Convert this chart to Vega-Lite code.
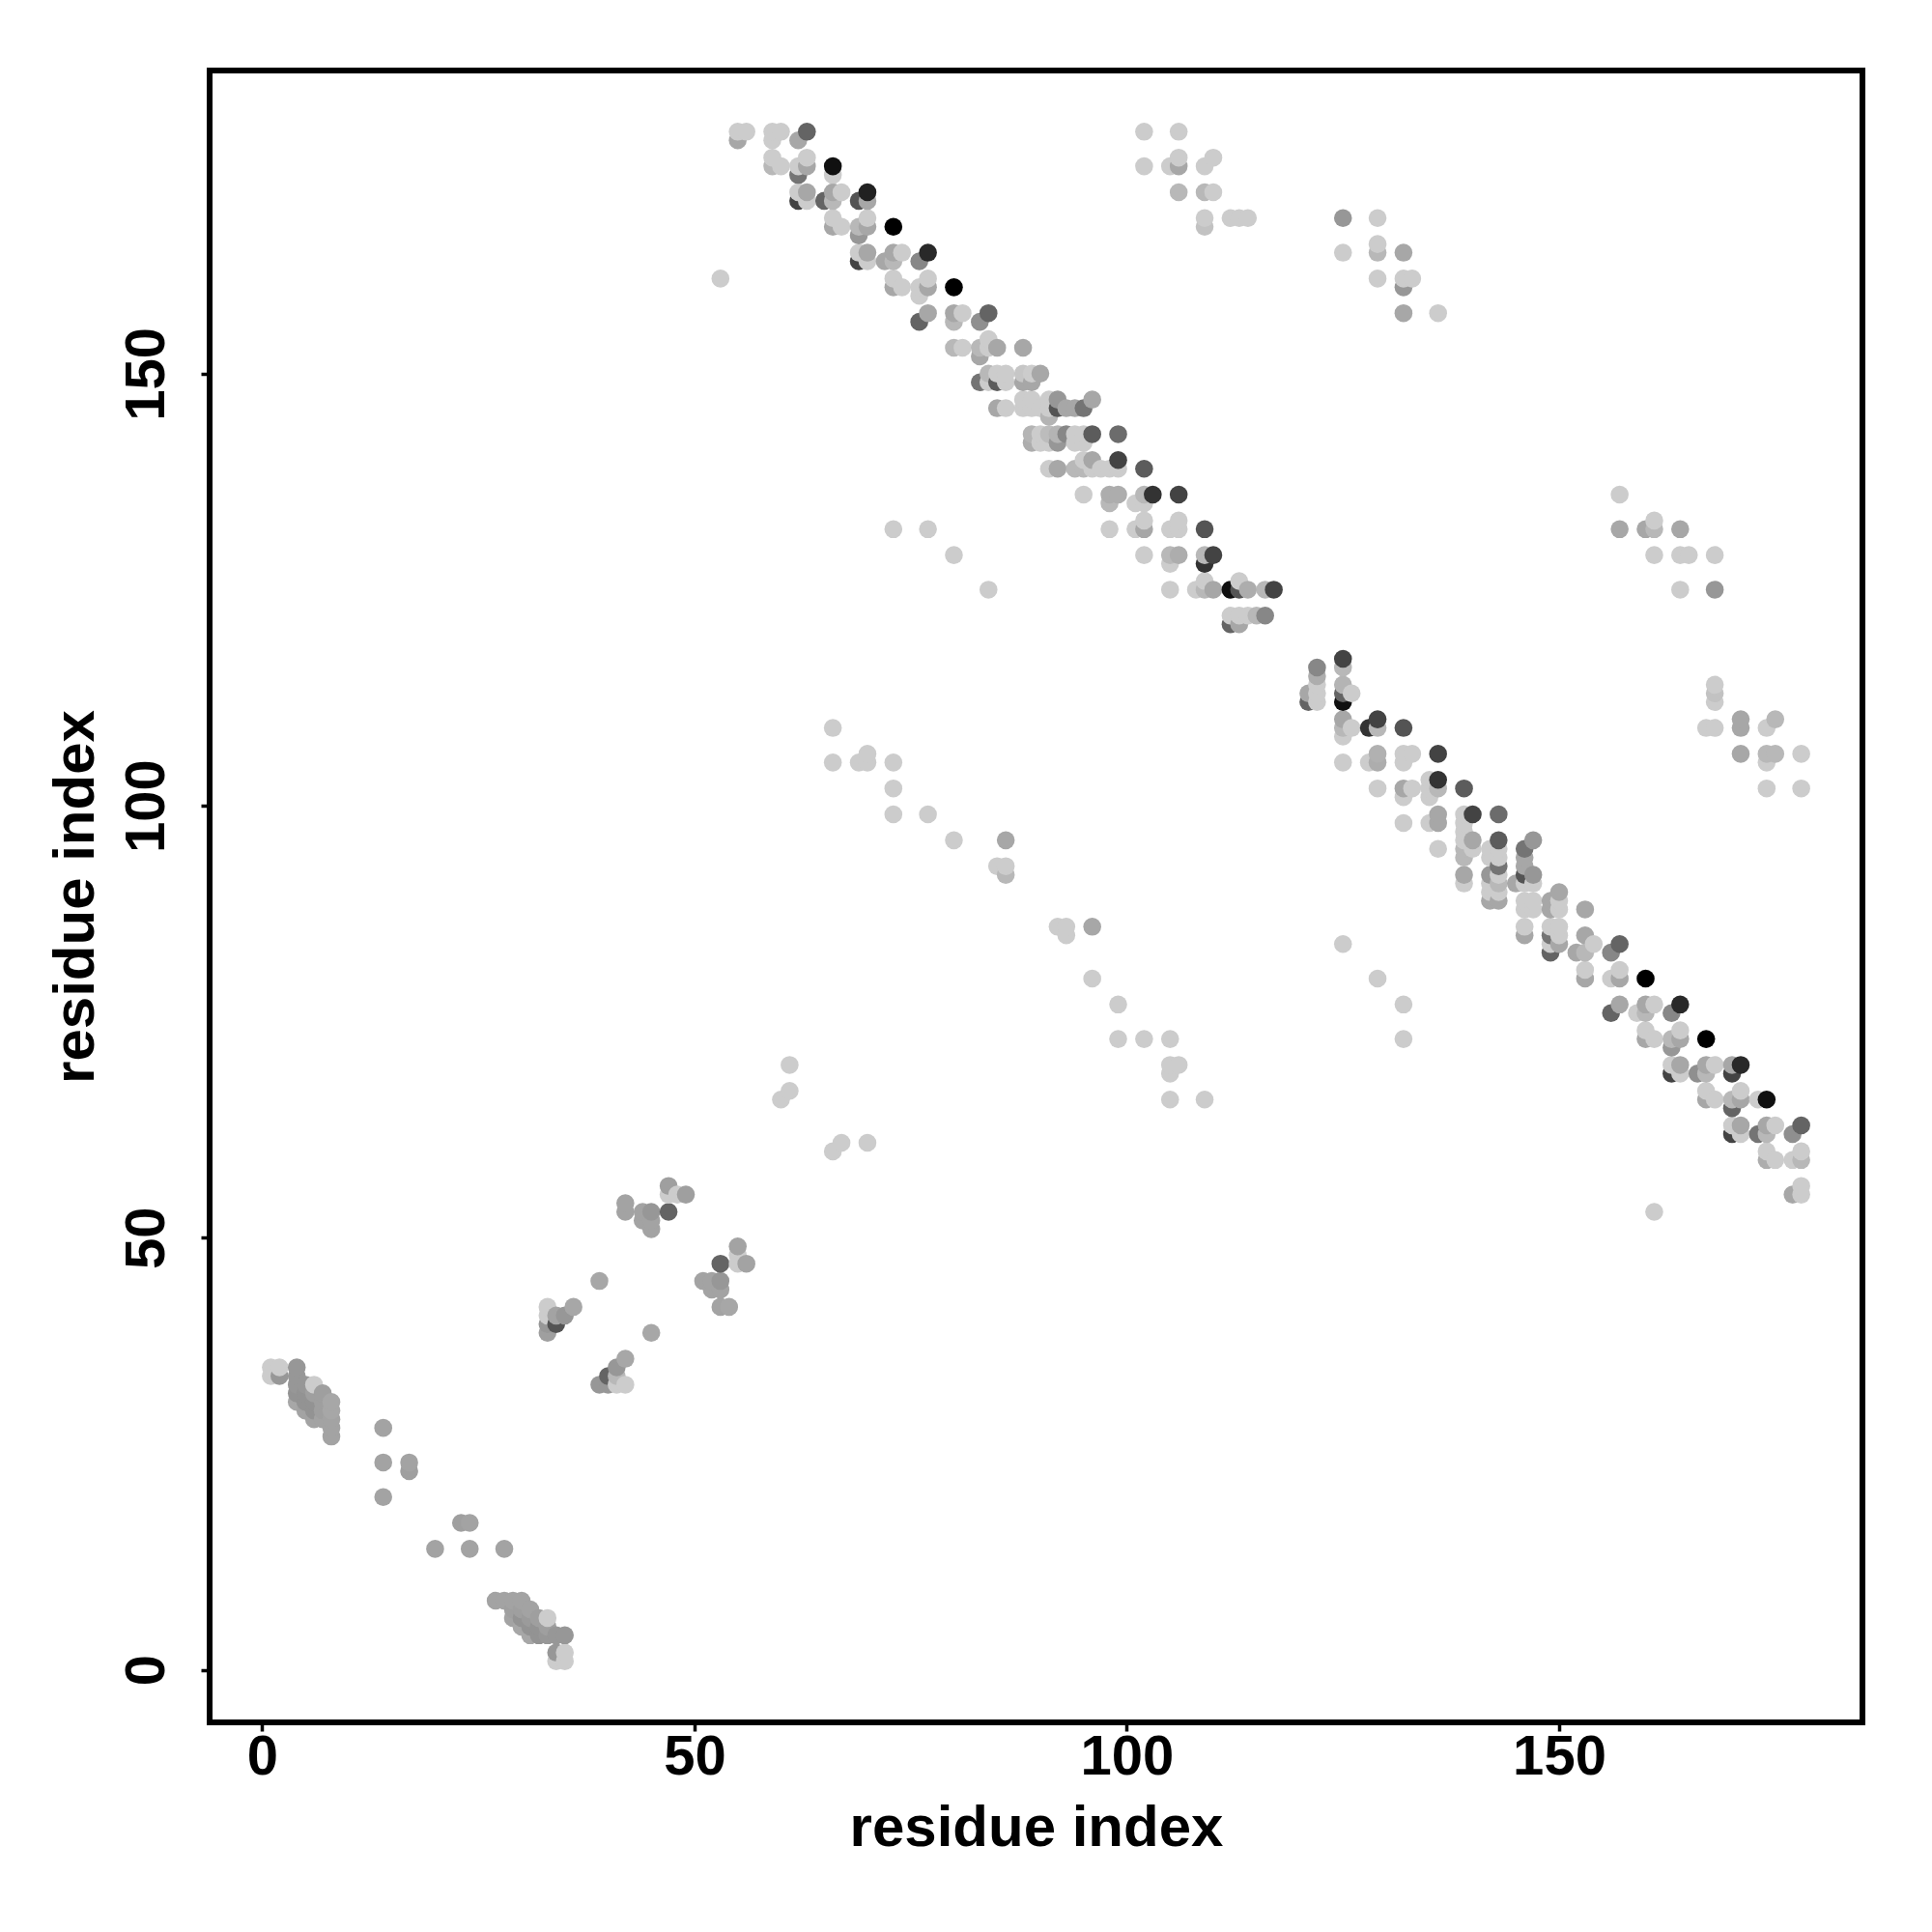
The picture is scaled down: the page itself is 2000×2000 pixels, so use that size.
{"$schema":"https://vega.github.io/schema/vega-lite/v6.json","autosize":{"type":"none"},"padding":{"left":217,"top":73,"right":71,"bottom":217},"width":1711,"height":1710,"background":"white","view":{"stroke":"black","strokeWidth":6,"fill":"white"},
"data":{"values":[
{"i":55,"j":178,"s":0},{"i":56,"j":178,"s":0},{"i":59,"j":178,"s":0},{"i":60,"j":178,"s":0},{"i":63,"j":178,"s":0.51},
{"i":55,"j":177,"s":0.18},{"i":59,"j":177,"s":0},{"i":62,"j":177,"s":0.18},
{"i":59,"j":175,"s":0},{"i":63,"j":175,"s":0},
{"i":66,"j":174,"s":0.92},{"i":59,"j":174,"s":0.1},{"i":60,"j":174,"s":0},{"i":62,"j":174,"s":0},{"i":63,"j":174,"s":0.18},
{"i":62,"j":173,"s":0.43},{"i":66,"j":173,"s":0},
{"i":62,"j":171,"s":0},{"i":63,"j":171,"s":0.18},{"i":66,"j":171,"s":0.18},{"i":67,"j":171,"s":0},{"i":70,"j":171,"s":0.84},
{"i":62,"j":170,"s":0.67},{"i":63,"j":170,"s":0},{"i":65,"j":170,"s":0.51},{"i":66,"j":170,"s":0.1},{"i":69,"j":170,"s":0.59},{"i":70,"j":170,"s":0.18},
{"i":66,"j":168,"s":0},{"i":70,"j":168,"s":0},
{"i":66,"j":167,"s":0.18},{"i":67,"j":167,"s":0},{"i":69,"j":167,"s":0.1},{"i":70,"j":167,"s":0.18},{"i":73,"j":167,"s":1},
{"i":69,"j":166,"s":0.26},
{"i":69,"j":164,"s":0},{"i":70,"j":164,"s":0.18},{"i":73,"j":164,"s":0.18},{"i":74,"j":164,"s":0},{"i":77,"j":164,"s":0.8},
{"i":69,"j":163,"s":0.67},{"i":70,"j":163,"s":0},{"i":72,"j":163,"s":0.18},{"i":73,"j":163,"s":0.1},{"i":76,"j":163,"s":0.34},
{"i":53,"j":161,"s":0},{"i":73,"j":161,"s":0},{"i":77,"j":161,"s":0},
{"i":73,"j":160,"s":0.18},{"i":74,"j":160,"s":0},{"i":76,"j":160,"s":0},{"i":77,"j":160,"s":0.18},{"i":80,"j":160,"s":1},
{"i":76,"j":159,"s":0},
{"i":77,"j":157,"s":0.18},{"i":80,"j":157,"s":0.18},{"i":81,"j":157,"s":0},{"i":84,"j":157,"s":0.51},
{"i":76,"j":156,"s":0.51},{"i":80,"j":156,"s":0.1},{"i":83,"j":156,"s":0.3},
{"i":84,"j":154,"s":0},
{"i":80,"j":153,"s":0.1},{"i":81,"j":153,"s":0},{"i":83,"j":153,"s":0.1},{"i":84,"j":153,"s":0},{"i":85,"j":153,"s":0.18},{"i":88,"j":153,"s":0.18},
{"i":83,"j":152,"s":0.18},
{"i":84,"j":150,"s":0.1},{"i":85,"j":150,"s":0},{"i":86,"j":150,"s":0},{"i":88,"j":150,"s":0.03},{"i":89,"j":150,"s":0},{"i":90,"j":150,"s":0.18},
{"i":83,"j":149,"s":0.43},{"i":84,"j":149,"s":0},{"i":85,"j":149,"s":0.55},{"i":86,"j":149,"s":0},{"i":88,"j":149,"s":0.18},{"i":89,"j":149,"s":0.18},
{"i":88,"j":147,"s":0},{"i":89,"j":147,"s":0},{"i":91,"j":147,"s":0},{"i":92,"j":147,"s":0.26},{"i":96,"j":147,"s":0.18},
{"i":85,"j":146,"s":0.18},{"i":86,"j":146,"s":0},{"i":88,"j":146,"s":0},{"i":89,"j":146,"s":0},{"i":90,"j":146,"s":0},{"i":91,"j":146,"s":0},{"i":92,"j":146,"s":0.59},{"i":93,"j":146,"s":0.18},{"i":94,"j":146,"s":0.18},{"i":95,"j":146,"s":0.43},
{"i":91,"j":145,"s":0.12},
{"i":89,"j":143,"s":0.12},{"i":90,"j":143,"s":0},{"i":91,"j":143,"s":0.08},{"i":92,"j":143,"s":0.12},{"i":93,"j":143,"s":0.34},{"i":94,"j":143,"s":0},{"i":95,"j":143,"s":0},{"i":96,"j":143,"s":0.55},{"i":99,"j":143,"s":0.47},
{"i":89,"j":142,"s":0.15},{"i":90,"j":142,"s":0},{"i":91,"j":142,"s":0},{"i":92,"j":142,"s":0.26},{"i":94,"j":142,"s":0},{"i":95,"j":142,"s":0},
{"i":95,"j":140,"s":0},{"i":96,"j":140,"s":0.18},{"i":99,"j":140,"s":0.67},
{"i":91,"j":139,"s":0},{"i":92,"j":139,"s":0.18},{"i":94,"j":139,"s":0.1},{"i":95,"j":139,"s":0.1},{"i":96,"j":139,"s":0},{"i":97,"j":139,"s":0},{"i":98,"j":139,"s":0},{"i":99,"j":139,"s":0},{"i":102,"j":139,"s":0.55},
{"i":95,"j":136,"s":0},{"i":98,"j":136,"s":0.15},{"i":99,"j":136,"s":0.15},{"i":102,"j":136,"s":0.1},{"i":103,"j":136,"s":0.75},{"i":106,"j":136,"s":0.67},
{"i":98,"j":135,"s":0.1},{"i":101,"j":135,"s":0},{"i":102,"j":135,"s":0},
{"i":102,"j":133,"s":0},{"i":106,"j":133,"s":0},
{"i":98,"j":132,"s":0},{"i":101,"j":132,"s":0},{"i":102,"j":132,"s":0.18},{"i":105,"j":132,"s":0},{"i":106,"j":132,"s":0},{"i":109,"j":132,"s":0.59},
{"i":102,"j":129,"s":0},{"i":105,"j":129,"s":0.1},{"i":106,"j":129,"s":0.15},{"i":109,"j":129,"s":0.1},{"i":110,"j":129,"s":0.67},
{"i":105,"j":128,"s":0},{"i":109,"j":128,"s":0.75},
{"i":109,"j":126,"s":0},{"i":113,"j":126,"s":0},
{"i":84,"j":125,"s":0},{"i":105,"j":125,"s":0},{"i":108,"j":125,"s":0},{"i":109,"j":125,"s":0.1},{"i":110,"j":125,"s":0.18},{"i":112,"j":125,"s":0.92},{"i":113,"j":125,"s":0.59},{"i":114,"j":125,"s":0.15},{"i":116,"j":125,"s":0.1},{"i":117,"j":125,"s":0.67},
{"i":112,"j":122,"s":0},{"i":113,"j":122,"s":0},{"i":114,"j":122,"s":0},{"i":115,"j":122,"s":0.1},{"i":116,"j":122,"s":0.34},
{"i":112,"j":121,"s":0.51},{"i":113,"j":121,"s":0.18},
{"i":125,"j":117,"s":0.67},
{"i":122,"j":116,"s":0.34},{"i":125,"j":116,"s":0.1},
{"i":122,"j":115,"s":0.15},
{"i":122,"j":114,"s":0},{"i":125,"j":114,"s":0.12},
{"i":121,"j":113,"s":0.18},{"i":122,"j":113,"s":0},{"i":125,"j":113,"s":0.51},{"i":126,"j":113,"s":0},
{"i":121,"j":112,"s":0.51},{"i":122,"j":112,"s":0},{"i":125,"j":112,"s":0.92},
{"i":125,"j":110,"s":0.18},{"i":129,"j":110,"s":0.67},
{"i":125,"j":109,"s":0.1},{"i":126,"j":109,"s":0},{"i":128,"j":109,"s":0.75},{"i":129,"j":109,"s":0.1},{"i":132,"j":109,"s":0.59},
{"i":125,"j":108,"s":0},
{"i":129,"j":106,"s":0.13},{"i":132,"j":106,"s":0},{"i":133,"j":106,"s":0},{"i":136,"j":106,"s":0.67},
{"i":125,"j":105,"s":0},{"i":128,"j":105,"s":0},{"i":129,"j":105,"s":0.15},{"i":132,"j":105,"s":0},
{"i":135,"j":103,"s":0},{"i":136,"j":103,"s":0.75},
{"i":129,"j":102,"s":0},{"i":132,"j":102,"s":0.18},{"i":133,"j":102,"s":0},{"i":135,"j":102,"s":0},{"i":136,"j":102,"s":0.1},{"i":139,"j":102,"s":0.55},
{"i":132,"j":101,"s":0},{"i":135,"j":101,"s":0},
{"i":136,"j":99,"s":0.18},{"i":139,"j":99,"s":0},{"i":140,"j":99,"s":0.67},{"i":143,"j":99,"s":0.47},
{"i":132,"j":98,"s":0},{"i":135,"j":98,"s":0},{"i":136,"j":98,"s":0.18},{"i":139,"j":98,"s":0},
{"i":139,"j":97,"s":0},
{"i":139,"j":96,"s":0},{"i":140,"j":96,"s":0.18},{"i":143,"j":96,"s":0.55},{"i":147,"j":96,"s":0.26},
{"i":136,"j":95,"s":0},{"i":139,"j":95,"s":0.1},{"i":140,"j":95,"s":0},{"i":142,"j":95,"s":0},{"i":143,"j":95,"s":0},{"i":146,"j":95,"s":0.43},
{"i":139,"j":94,"s":0.1},{"i":142,"j":94,"s":0},{"i":143,"j":94,"s":0},{"i":146,"j":94,"s":0.18},
{"i":143,"j":93,"s":0.43},{"i":146,"j":93,"s":0.18},
{"i":139,"j":92,"s":0.18},{"i":142,"j":92,"s":0.26},{"i":143,"j":92,"s":0},{"i":146,"j":92,"s":0.59},{"i":147,"j":92,"s":0.26},
{"i":139,"j":91,"s":0},{"i":142,"j":91,"s":0},{"i":143,"j":91,"s":0.1},{"i":145,"j":91,"s":0.18},{"i":146,"j":91,"s":0},{"i":147,"j":91,"s":0},
{"i":142,"j":90,"s":0},{"i":143,"j":90,"s":0},{"i":150,"j":90,"s":0.18},
{"i":142,"j":89,"s":0.18},{"i":143,"j":89,"s":0.18},{"i":146,"j":89,"s":0},{"i":147,"j":89,"s":0},{"i":149,"j":89,"s":0.18},{"i":150,"j":89,"s":0},
{"i":146,"j":88,"s":0},{"i":147,"j":88,"s":0},{"i":149,"j":88,"s":0.18},{"i":150,"j":88,"s":0},{"i":153,"j":88,"s":0.18},
{"i":146,"j":86,"s":0},{"i":149,"j":86,"s":0},{"i":150,"j":86,"s":0},
{"i":146,"j":85,"s":0.18},{"i":149,"j":85,"s":0.43},{"i":150,"j":85,"s":0},{"i":153,"j":85,"s":0.18},
{"i":125,"j":84,"s":0},{"i":149,"j":84,"s":0},{"i":150,"j":84,"s":0.18},{"i":154,"j":84,"s":0},{"i":157,"j":84,"s":0.51},
{"i":149,"j":83,"s":0.51},{"i":152,"j":83,"s":0.18},{"i":153,"j":83,"s":0.1},{"i":156,"j":83,"s":0.34},
{"i":153,"j":81,"s":0},{"i":157,"j":81,"s":0},
{"i":129,"j":80,"s":0},{"i":153,"j":80,"s":0.18},{"i":156,"j":80,"s":0},{"i":157,"j":80,"s":0.18},{"i":160,"j":80,"s":1},
{"i":132,"j":77,"s":0},{"i":157,"j":77,"s":0.18},{"i":160,"j":77,"s":0.18},{"i":161,"j":77,"s":0},{"i":164,"j":77,"s":0.8},
{"i":156,"j":76,"s":0.51},{"i":159,"j":76,"s":0},{"i":160,"j":76,"s":0.1},{"i":163,"j":76,"s":0.34},
{"i":160,"j":74,"s":0},{"i":164,"j":74,"s":0},
{"i":132,"j":73,"s":0},{"i":160,"j":73,"s":0.18},{"i":161,"j":73,"s":0},{"i":163,"j":73,"s":0.1},{"i":164,"j":73,"s":0.18},{"i":167,"j":73,"s":1},
{"i":163,"j":72,"s":0.26},
{"i":163,"j":70,"s":0},{"i":164,"j":70,"s":0.18},{"i":167,"j":70,"s":0.18},{"i":168,"j":70,"s":0},{"i":170,"j":70,"s":0.18},{"i":171,"j":70,"s":0.8},
{"i":163,"j":69,"s":0.67},{"i":164,"j":69,"s":0},{"i":166,"j":69,"s":0.3},{"i":167,"j":69,"s":0.1},{"i":170,"j":69,"s":0.67},
{"i":167,"j":67,"s":0},{"i":171,"j":67,"s":0},
{"i":167,"j":66,"s":0.18},{"i":168,"j":66,"s":0},{"i":170,"j":66,"s":0.1},{"i":171,"j":66,"s":0.18},{"i":173,"j":66,"s":0},{"i":174,"j":66,"s":0.92},
{"i":170,"j":65,"s":0.51},
{"i":170,"j":63,"s":0},{"i":171,"j":63,"s":0.18},{"i":174,"j":63,"s":0.18},{"i":175,"j":63,"s":0},{"i":178,"j":63,"s":0.51},
{"i":170,"j":62,"s":0.67},{"i":171,"j":62,"s":0},{"i":173,"j":62,"s":0.43},{"i":174,"j":62,"s":0.1},{"i":177,"j":62,"s":0.3},
{"i":174,"j":60,"s":0},{"i":178,"j":60,"s":0},
{"i":174,"j":59,"s":0.15},{"i":175,"j":59,"s":0},{"i":177,"j":59,"s":0},{"i":178,"j":59,"s":0.1},
{"i":178,"j":56,"s":0},{"i":177,"j":55,"s":0.18},{"i":178,"j":55,"s":0},{"i":161,"j":53,"s":0},
{"i":1,"j":35,"s":0},{"i":2,"j":35,"s":0},{"i":4,"j":35,"s":0.26},
{"i":1,"j":34,"s":0},{"i":2,"j":34,"s":0.26},{"i":4,"j":34,"s":0.26},
{"i":4,"j":33,"s":0.26},{"i":5,"j":33,"s":0.26},{"i":6,"j":33,"s":0},
{"i":4,"j":32,"s":0.28},{"i":5,"j":32,"s":0.28},{"i":6,"j":32,"s":0.22},{"i":7,"j":32,"s":0.22},
{"i":4,"j":31,"s":0.18},{"i":5,"j":31,"s":0.28},{"i":6,"j":31,"s":0.28},{"i":7,"j":31,"s":0.22},{"i":8,"j":31,"s":0.18},
{"i":5,"j":30,"s":0.2},{"i":6,"j":30,"s":0.28},{"i":7,"j":30,"s":0.22},{"i":8,"j":30,"s":0.18},
{"i":6,"j":29,"s":0.2},{"i":7,"j":29,"s":0.2},{"i":8,"j":29,"s":0.2},
{"i":8,"j":28,"s":0.2},{"i":14,"j":28,"s":0.2},{"i":8,"j":27,"s":0.2},
{"i":14,"j":24,"s":0.2},{"i":17,"j":24,"s":0.2},{"i":17,"j":23,"s":0.22},{"i":14,"j":20,"s":0.2},
{"i":23,"j":17,"s":0.22},{"i":24,"j":17,"s":0.2},{"i":20,"j":14,"s":0.2},{"i":24,"j":14,"s":0.2},{"i":28,"j":14,"s":0.2},
{"i":27,"j":8,"s":0.2},{"i":28,"j":8,"s":0.2},{"i":29,"j":8,"s":0.2},{"i":30,"j":8,"s":0.2},
{"i":29,"j":7,"s":0.22},{"i":30,"j":7,"s":0.22},{"i":31,"j":7,"s":0.2},
{"i":29,"j":6,"s":0.2},{"i":30,"j":6,"s":0.28},{"i":31,"j":6,"s":0.24},{"i":32,"j":6,"s":0.22},{"i":33,"j":6,"s":0},
{"i":30,"j":5,"s":0.18},{"i":31,"j":5,"s":0.28},{"i":32,"j":5,"s":0.28},{"i":33,"j":5,"s":0.22},
{"i":31,"j":4,"s":0.18},{"i":32,"j":4,"s":0.28},{"i":33,"j":4,"s":0.26},{"i":34,"j":4,"s":0.26},{"i":35,"j":4,"s":0.26},
{"i":34,"j":2,"s":0.26},{"i":35,"j":2,"s":0},{"i":34,"j":1,"s":0},{"i":35,"j":1,"s":0},
{"i":47,"j":56,"s":0.22},{"i":47,"j":55,"s":0},{"i":48,"j":55,"s":0},{"i":49,"j":55,"s":0.22},
{"i":42,"j":54,"s":0.2},{"i":42,"j":53,"s":0.2},{"i":44,"j":53,"s":0.2},{"i":45,"j":53,"s":0.26},{"i":47,"j":53,"s":0.51},
{"i":44,"j":52,"s":0.2},{"i":45,"j":52,"s":0.2},{"i":45,"j":51,"s":0.2},
{"i":55,"j":49,"s":0.2},{"i":55,"j":48,"s":0},{"i":53,"j":47,"s":0.51},{"i":55,"j":47,"s":0},{"i":56,"j":47,"s":0.2},
{"i":39,"j":45,"s":0.18},{"i":51,"j":45,"s":0.2},{"i":52,"j":45,"s":0.2},{"i":53,"j":45,"s":0.26},
{"i":52,"j":44,"s":0.2},{"i":53,"j":44,"s":0.2},
{"i":33,"j":42,"s":0},{"i":36,"j":42,"s":0.18},{"i":53,"j":42,"s":0.2},{"i":54,"j":42,"s":0.18},
{"i":33,"j":41,"s":0},{"i":34,"j":41,"s":0.2},{"i":35,"j":41,"s":0.26},
{"i":33,"j":40,"s":0.26},{"i":34,"j":40,"s":0.59},
{"i":33,"j":39,"s":0.22},{"i":45,"j":39,"s":0.18},
{"i":42,"j":36,"s":0.18},{"i":41,"j":35,"s":0.26},{"i":40,"j":34,"s":0.51},{"i":41,"j":34,"s":0.1},
{"i":39,"j":33,"s":0.26},{"i":40,"j":33,"s":0.26},{"i":41,"j":33,"s":0},{"i":42,"j":33,"s":0},
{"i":102,"j":178,"s":0},{"i":106,"j":178,"s":0},{"i":102,"j":174,"s":0},{"i":105,"j":174,"s":0},{"i":106,"j":175,"s":0},{"i":106,"j":174,"s":0.18},{"i":109,"j":174,"s":0},{"i":110,"j":175,"s":0},{"i":106,"j":171,"s":0.1},{"i":109,"j":171,"s":0.1},{"i":110,"j":171,"s":0},{"i":109,"j":168,"s":0},{"i":109,"j":167,"s":0.05},{"i":112,"j":168,"s":0},{"i":113,"j":168,"s":0},{"i":114,"j":168,"s":0},
{"i":125,"j":168,"s":0.26},{"i":129,"j":168,"s":0},{"i":125,"j":164,"s":0},{"i":129,"j":165,"s":0},{"i":129,"j":164,"s":0.1},{"i":132,"j":164,"s":0.18},{"i":129,"j":161,"s":0},{"i":132,"j":161,"s":0},{"i":133,"j":161,"s":0},{"i":132,"j":160,"s":0.26},{"i":132,"j":157,"s":0.18},{"i":136,"j":157,"s":0},
{"i":157,"j":136,"s":0},{"i":157,"j":132,"s":0.18},{"i":160,"j":132,"s":0.18},{"i":161,"j":132,"s":0.1},{"i":161,"j":133,"s":0},{"i":161,"j":129,"s":0},{"i":164,"j":132,"s":0.18},{"i":164,"j":129,"s":0},{"i":165,"j":129,"s":0},{"i":164,"j":125,"s":0},{"i":168,"j":129,"s":0},{"i":168,"j":125,"s":0.26},
{"i":168,"j":114,"s":0},{"i":168,"j":113,"s":0.05},{"i":168,"j":112,"s":0},{"i":167,"j":109,"s":0},{"i":168,"j":109,"s":0},{"i":171,"j":110,"s":0.18},{"i":171,"j":109,"s":0.18},{"i":175,"j":110,"s":0.1},{"i":174,"j":109,"s":0},{"i":171,"j":106,"s":0.18},{"i":174,"j":106,"s":0.1},{"i":175,"j":106,"s":0.1},{"i":174,"j":105,"s":0},{"i":178,"j":106,"s":0},{"i":174,"j":102,"s":0},{"i":178,"j":102,"s":0},
{"i":73,"j":132,"s":0},{"i":77,"j":132,"s":0},{"i":80,"j":129,"s":0},
{"i":66,"j":109,"s":0},{"i":66,"j":105,"s":0},{"i":69,"j":105,"s":0},{"i":70,"j":106,"s":0},{"i":70,"j":105,"s":0},{"i":73,"j":105,"s":0},{"i":73,"j":102,"s":0},{"i":73,"j":99,"s":0},{"i":77,"j":99,"s":0},{"i":80,"j":96,"s":0},{"i":86,"j":96,"s":0.18},{"i":85,"j":93,"s":0},{"i":86,"j":93,"s":0},{"i":86,"j":92,"s":0.1},
{"i":92,"j":86,"s":0},{"i":93,"j":86,"s":0},{"i":93,"j":85,"s":0},{"i":96,"j":86,"s":0.18},{"i":96,"j":80,"s":0},{"i":99,"j":77,"s":0},{"i":99,"j":73,"s":0},{"i":102,"j":73,"s":0},{"i":105,"j":73,"s":0},{"i":106,"j":70,"s":0},{"i":105,"j":70,"s":0},{"i":105,"j":69,"s":0},{"i":105,"j":66,"s":0},{"i":109,"j":66,"s":0},
{"i":61,"j":70,"s":0},{"i":61,"j":67,"s":0},{"i":60,"j":66,"s":0},{"i":66,"j":60,"s":0},{"i":67,"j":61,"s":0},{"i":70,"j":61,"s":0}
]},
"transform":[{"window":[{"op":"row_number","as":"draw_rank"}],"sort":[{"field":"i","order":"ascending"},{"field":"j","order":"ascending"}]}],
"mark":{"type":"circle","size":345,"opacity":1},
"encoding":{
"x":{"field":"i","type":"quantitative","scale":{"domain":[-6.08,185.08],"nice":false,"zero":false},
"axis":{"values":[0,50,100,150],"title":"residue index","grid":false,"domain":false,"tickSize":9,"tickWidth":3.5,"tickColor":"black","labelFont":"Liberation Sans","labelFontWeight":"bold","labelFontSize":58,"labelColor":"black","labelPadding":-2,"labelOverlap":false,"labelFlush":false,"titleFont":"Liberation Sans","titleFontWeight":"bold","titleFontSize":60,"titleColor":"black","titlePadding":15}},
"y":{"field":"j","type":"quantitative","scale":{"domain":[-6.08,185.08],"nice":false,"zero":false},
"axis":{"values":[0,50,100,150],"title":"residue index","grid":false,"domain":false,"tickSize":9,"tickWidth":3.5,"tickColor":"black","labelFont":"Liberation Sans","labelFontWeight":"bold","labelFontSize":58,"labelColor":"black","labelAngle":-90,"labelAlign":"center","labelBaseline":"bottom","labelPadding":27,"labelOverlap":false,"labelFlush":false,"titleFont":"Liberation Sans","titleFontWeight":"bold","titleFontSize":60,"titleColor":"black","titlePadding":14}},
"color":{"field":"s","type":"quantitative","legend":null,"scale":{"domain":[0,1],"range":["#cccccc","#000000"],"interpolate":"rgb"}},
"order":{"field":"draw_rank","type":"quantitative"}
}}
